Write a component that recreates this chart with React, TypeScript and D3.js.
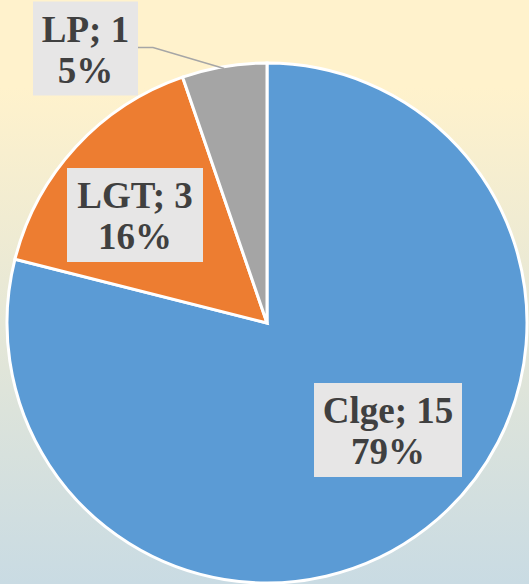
import React from "react";
import * as d3 from "d3";

const categories = ["Clge", "LGT", "LP"];
const values = [15, 3, 1];
const colors = ["#5B9BD5", "#ED7D31", "#A5A5A5"];

const W = 529;
const H = 584;
const CX = 267;
const CY = 323;
const R = 260;

// label box centers (layout)
const labelPos: [number, number][] = [
  [388, 430],
  [135, 215],
  [85.5, 48.5],
];

export default function App() {
  const total = d3.sum(values);
  const pie = d3.pie<number>().sort(null).value((d) => d);
  const arcs = pie(values);
  const arc = d3.arc<d3.PieArcDatum<number>>().innerRadius(0).outerRadius(R);
  const fmt = d3.format(".0%");

  const boxW = [148, 136, 105];
  const boxH = 94;

  const lpArc = arcs[2];
  const midA = (lpArc.startAngle + lpArc.endAngle) / 2;
  const edge: [number, number] = [CX + Math.sin(midA) * R, CY - Math.cos(midA) * R];
  const lpBox = labelPos[2];

  return (
    <svg
      width={W}
      height={H}
      style={{ position: "absolute", left: 0, top: 0 }}
    >
      <defs>
        <linearGradient id="bg" x1="0" y1="0" x2="0" y2="1">
          <stop offset="0" stopColor="#FFF2CC" />
          <stop offset="0.15" stopColor="#FFF2CC" />
          <stop offset="1" stopColor="#C9DBE3" />
        </linearGradient>
      </defs>
      <rect x={0} y={0} width={W} height={H} fill="url(#bg)" />
      <g transform={`translate(${CX},${CY})`}>
        {arcs.map((a, i) => (
          <path
            key={categories[i]}
            d={arc(a) || ""}
            fill={colors[i]}
            stroke="#FFFFFF"
            strokeWidth={3}
          />
        ))}
      </g>
      <polyline
        points={`${lpBox[0] + boxW[2] / 2},${lpBox[1] - 1} ${lpBox[0] + boxW[2] / 2 + 15},${lpBox[1] - 1} ${edge[0]},${edge[1] + 2}`}
        fill="none"
        stroke="#A6A6A6"
        strokeWidth={1.5}
      />
      {arcs.map((a, i) => {
        const [x, y] = labelPos[i];
        return (
          <g key={"l" + i}>
            <rect
              x={x - boxW[i] / 2}
              y={y - boxH / 2}
              width={boxW[i]}
              height={boxH}
              fill="#E7E6E6"
            />
            <text
              x={x}
              textAnchor="middle"
              style={{ fontFamily: '"Liberation Serif", "Times New Roman", Times, serif', fontWeight: 700, fontSize: "37px" }}
              fill="#404040"
            >
              <tspan x={x} y={y - 7}>
                {`${categories[i]}; ${values[i]}`}
              </tspan>
              <tspan x={x} y={y + 34}>
                {fmt(values[i] / total)}
              </tspan>
            </text>
          </g>
        );
      })}
    </svg>
  );
}
